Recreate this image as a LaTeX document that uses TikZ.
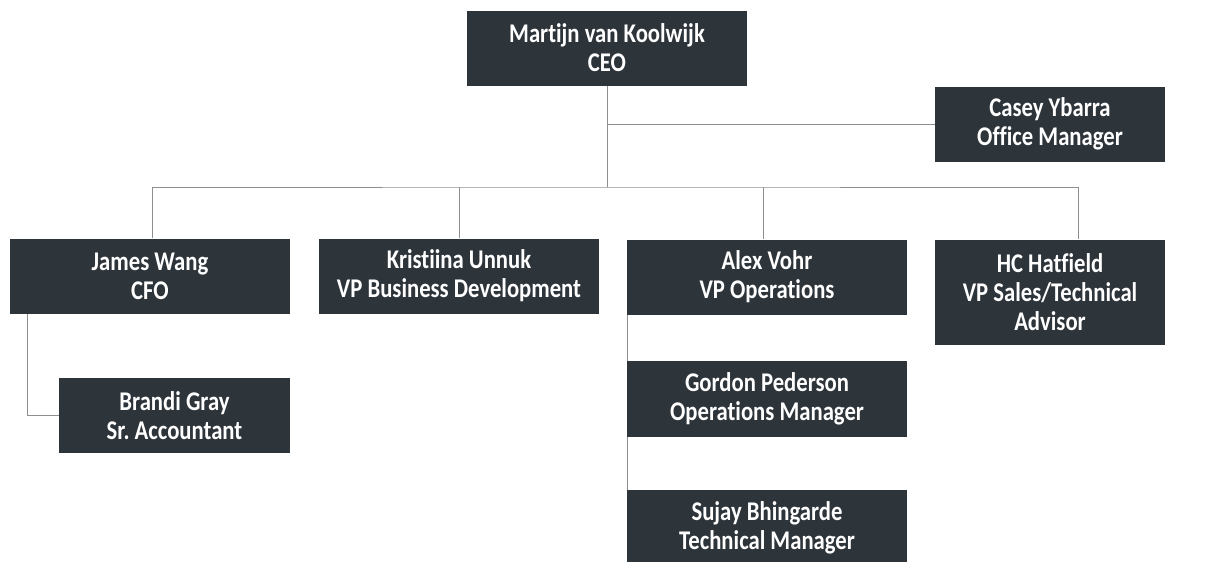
\documentclass[tikz,border=0pt]{standalone}
\usepackage{fontspec}
\setmainfont{Carlito}[FakeStretch=0.84,Ligatures=NoCommon]
\usetikzlibrary{backgrounds}
\definecolor{boxgray}{HTML}{2D343A}
\definecolor{linegray}{HTML}{8E8E8E}
\frenchspacing

\begin{document}
\begin{tikzpicture}[x=1pt,y=-1pt,
				every node/.style={fill=boxgray,text=white,align=center,inner sep=0pt,
					font=\fontsize{27}{29}\selectfont\bfseries},
				wide/.style={minimum width=280pt,minimum height=75pt},
				narrow/.style={minimum width=230pt,minimum height=75pt},
				conn/.style={draw=linegray,line width=0.9pt}]
	      \useasboundingbox (0,0) rectangle (1210,562);
	      % Nodos
	      \node[wide] (ceo) at (607,48) {Martijn van Koolwijk\\ CEO};
	      \node[narrow] (casey) at (1050,124) {Casey Ybarra\\ Office Manager};
	      \node[wide] (james) at (150,276) {James Wang\\ CFO};
	      \node[wide] (kristiina) at (459,276) {Kristiina Unnuk\\ VP Business Development};
	      \node[wide] (alex) at (767,277) {Alex Vohr\\ VP Operations};
	      \node[narrow,minimum height=105pt] (hc) at (1050,292) {HC Hatfield\\ VP Sales/Technical\\ Advisor};
	      \node[narrow,minimum width=231pt] (brandi) at (174.5,415.5) {Brandi Gray\\ Sr. Accountant};
	      \node[wide,minimum height=76pt] (gordon) at (767,399) {Gordon Pederson\\ Operations Manager};
	      \node[wide] (sujay) at (767,527.5) {Sujay Bhingarde\\ Technical Manager};
	      % Conectores
	      \begin{scope}[on background layer]
	      \coordinate (fork) at (607,187);
	      \draw[conn] (ceo.south) -- (fork);
	      \draw[conn] (ceo.south |- casey.west) -- (casey.west);
	      \draw[conn] ([xshift=2pt]james.north) |- (fork) -| ([xshift=28pt]hc.north);
	      \draw[conn] (kristiina.north) -- (kristiina.north |- fork);
	      \draw[conn] ([xshift=-4pt]alex.north) -- ([xshift=-4pt]alex.north |- fork);
	      \draw[conn] ([xshift=18pt]james.south west) |- (brandi.west);
	      \draw[conn] ([xshift=1pt]alex.south west) -- ([xshift=1pt]sujay.north west);
	      \end{scope}
	    \end{tikzpicture}
\end{document}
